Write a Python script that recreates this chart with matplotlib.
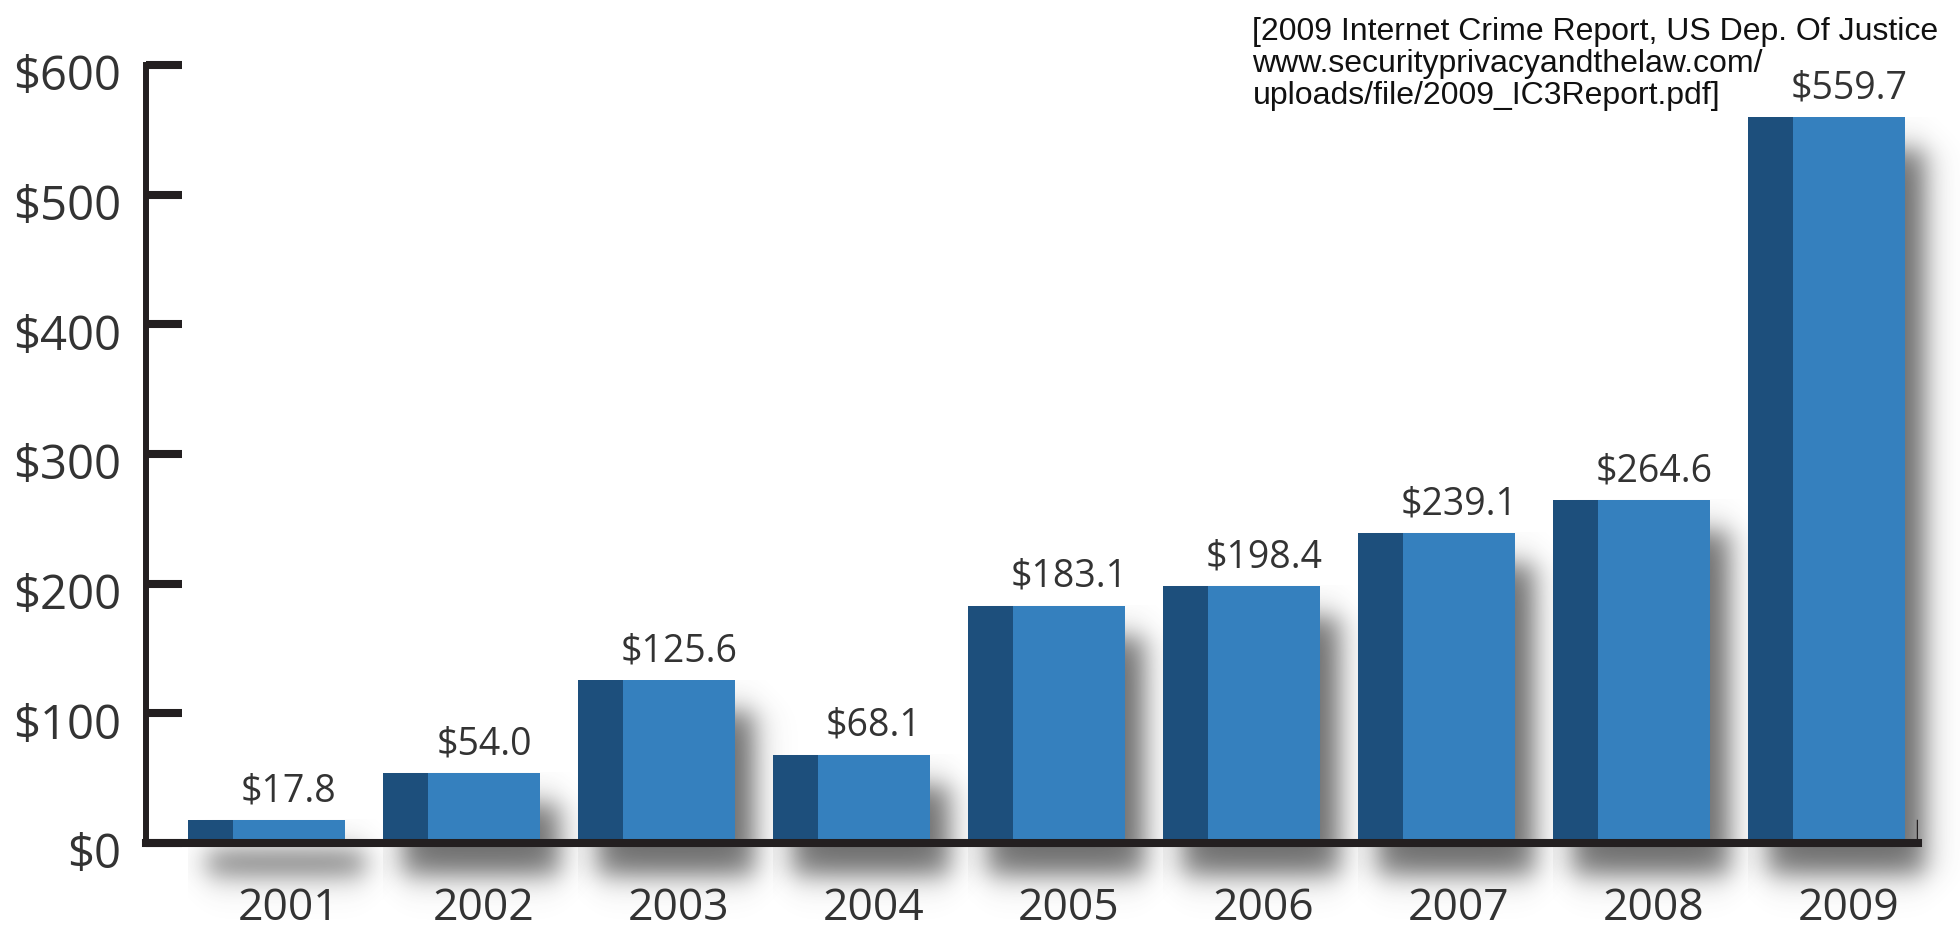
import matplotlib.pyplot as plt
import matplotlib.transforms as mtransforms
import numpy as np

years = ['2001', '2002', '2003', '2004', '2005', '2006', '2007', '2008', '2009']
losses = [17.8, 54.0, 125.6, 68.1, 183.1, 198.4, 239.1, 264.6, 559.7]
value_labels = ['$17.8', '$54.0', '$125.6', '$68.1', '$183.1',
                '$198.4', '$239.1', '$264.6', '$559.7']
yticks = [0, 100, 200, 300, 400, 500, 600]
ytick_labels = ['$0', '$100', '$200', '$300', '$400', '$500', '$600']
source_lines = ['[2009 Internet Crime Report, US Dep. Of Justice',
                'www.securityprivacyandthelaw.com/',
                'uploads/file/2009_IC3Report.pdf]']

dark = '#1d4f7c'
light = '#3580be'
ink = '#231f20'
font = ['Open Sans', 'DejaVu Sans']

fig = plt.figure(figsize=(19.6, 9.3), dpi=100)
ax = fig.add_axes([146 / 1960, 1 - 843 / 930, 1772 / 1960, 778 / 930])

x = np.arange(len(years))
w_light = 0.574
w_dark = 0.231

# soft drop shadows (right side and below the baseline)
for xi, h in zip(x, losses):
    left = xi - w_light / 2 - w_dark
    right = xi + w_light / 2
    ex0, ex1 = left, right + 0.4
    ey0, ey1 = -70, h
    X, Y = np.meshgrid(np.linspace(ex0, ex1, 300), np.linspace(ey0, ey1, 300))
    sx, sy = 0.085, 13
    fx = 0.5 * (np.tanh((X - (left + 0.1)) / sx) - np.tanh((X - (right + 0.1)) / sx))
    fy = 0.5 * (np.tanh((Y + 25) / sy) - np.tanh((Y - (h - 24)) / sy))
    rgba = np.zeros(X.shape + (4,))
    rgba[..., :3] = 0.28
    rgba[..., 3] = 0.8 * fx * fy
    ax.imshow(rgba, extent=(ex0, ex1, ey0, ey1), origin='lower', aspect='auto',
              interpolation='bilinear', zorder=1, clip_on=False)

ax.bar(x - w_light / 2 - w_dark / 2, losses, width=w_dark, color=dark, zorder=2)
ax.bar(x, losses, width=w_light, color=light, zorder=2)

for xi, h, lab in zip(x, losses, value_labels):
    ax.annotate(lab, (xi, h), xytext=(0, 7), textcoords='offset points',
                ha='center', va='bottom', fontsize=27, color='#333333', family=font)

ax.set_xlim(-0.733, 8.354)
ax.set_ylim(0, 600)

ax.spines['top'].set_visible(False)
ax.spines['right'].set_visible(False)
ax.spines['left'].set_linewidth(4.3)
ax.spines['bottom'].set_linewidth(5.8)
ax.spines['left'].set_color(ink)
ax.spines['bottom'].set_color(ink)
ax.spines['left'].set_zorder(3)
ax.spines['bottom'].set_zorder(3)
ax.axvline(8.354, ymin=0, ymax=0.028, color=ink, linewidth=2.5, zorder=3)

ax.set_yticks(yticks)
ax.set_yticklabels(ytick_labels, fontsize=34, color='#333333', family=font)
ax.tick_params(axis='y', direction='in', length=26, width=5.8, color=ink, pad=18)
offset = mtransforms.ScaledTranslation(0, -0.07, fig.dpi_scale_trans)
for lab in ax.get_yticklabels():
    lab.set_transform(lab.get_transform() + offset)

ax.set_xticks(x)
ax.set_xticklabels(years, fontsize=32, color='#333333', family=font)
ax.tick_params(axis='x', length=0, pad=31)

# source note, one line at a time
for k, line in enumerate(source_lines):
    fig.text(0.639, 0.957 - k * 0.0345, line, ha='left', va='baseline',
             fontsize=23, family='Liberation Sans', color='#111111')

fig.savefig('out.png', dpi=100)
